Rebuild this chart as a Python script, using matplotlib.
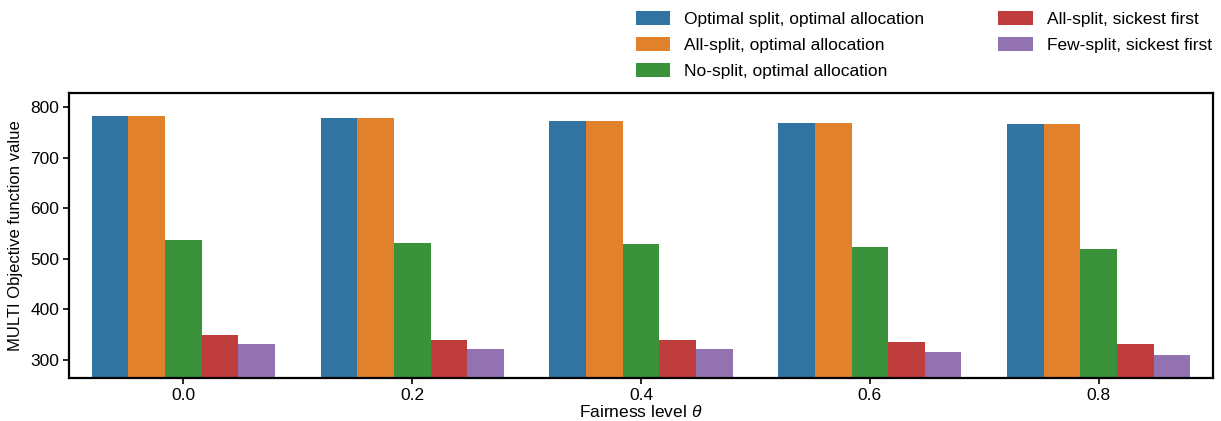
import matplotlib

matplotlib.use('Agg')

import matplotlib.pyplot as plt
import numpy

plt.rcParams['font.family'] = ['Liberation Sans', 'DejaVu Sans']
plt.rcParams['mathtext.fontset'] = 'custom'
plt.rcParams['mathtext.it'] = 'Liberation Sans:italic'

# Fairness levels (x groups)
fairness = ['0.0', '0.2', '0.4', '0.6', '0.8']

# Objective values per strategy
optimal_split = [782, 778, 773, 769, 766]
all_split_opt = [782, 778, 773, 769, 766]
no_split_opt = [537, 532, 529, 523, 519]
all_split_sick = [350, 340, 340, 336, 332]
few_split_sick = [332, 322, 322, 316, 310]

labels = ['Optimal split, optimal allocation',
          'All-split, optimal allocation',
          'No-split, optimal allocation',
          'All-split, sickest first',
          'Few-split, sickest first']
colors = ['#3274a1', '#e1812c', '#3a923a', '#c03d3e', '#9372b2']

series = [optimal_split, all_split_opt, no_split_opt, all_split_sick, few_split_sick]

fig = plt.figure(figsize=(12.21, 4.21), dpi=100)
ax = fig.add_axes([0.0565, 0.1021, 0.937, 0.677])

x = numpy.arange(len(fairness))
n = len(series)
w = 0.8 / n
for i, (vals, lab, c) in enumerate(zip(series, labels, colors)):
    ax.bar(x - 0.4 + w * (i + 0.5), vals, width=w, color=c, label=lab)

fs = 12.5
ax.set_xlim(-0.5, len(fairness) - 0.5)
ax.set_ylim(264, 828)
ax.set_xticks(x)
ax.set_xticklabels(fairness)
ax.set_yticks([300, 400, 500, 600, 700, 800])
ax.tick_params(labelsize=fs, width=1.2, length=4, pad=3)
ax.set_xlabel(r'Fairness level $\theta$', fontsize=fs, labelpad=1)
ax.set_ylabel('MULTI Objective function value', fontsize=12, labelpad=5)
for s in ax.spines.values():
    s.set_linewidth(1.6)

ax.legend(loc='lower right', bbox_to_anchor=(1.005, 1.025), ncol=2, frameon=False,
          fontsize=fs, handlelength=2.0, handleheight=0.9, columnspacing=4.25,
          labelspacing=0.56, borderaxespad=0.0, handletextpad=0.8)

fig.savefig('out.png', dpi=100)
